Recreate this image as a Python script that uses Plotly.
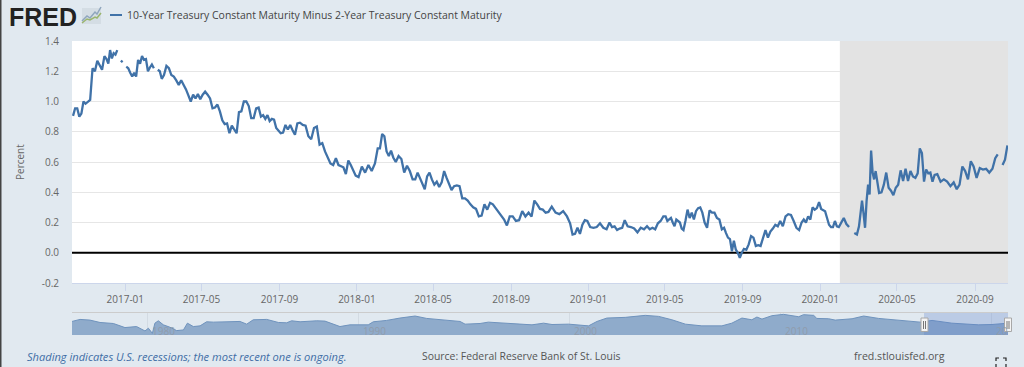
import calendar
from datetime import datetime, timedelta
import plotly.graph_objects as go

# Monthly blocks of readings of the 10Y-2Y spread (percent); None = gap in the series
spread_2016 = {
    (2016, 10): [.905, .955, .955, .90, .92, 1.0, .985],
    (2016, 11): [1.0, 1.01, 1.22, 1.2, 1.27, 1.24, 1.21, 1.3],
    (2016, 12): [1.28, 1.25, 1.34, 1.285, 1.32, 1.31, 1.34, None, 1.27, 1.26, None],
}
spread_2017 = {
    (2017, 1): [1.23, 1.22, 1.19, 1.165, 1.19, 1.165, 1.275, 1.25, 1.3, 1.275],
    (2017, 2): [1.28, 1.2, 1.225, 1.245, 1.22, None, 1.21, 1.2, 1.15],
    (2017, 3): [1.175, 1.235, 1.22, 1.175, 1.165, 1.14, 1.11, 1.14],
    (2017, 4): [1.11, 1.08, 1.04, 1.0, 1.045, 1.02, 1.05, 1.015],
    (2017, 5): [1.045, 1.065, 1.045, 1.02, .955, .96, .98, .935],
    (2017, 6): [.875, .85, .855, .79, .84, .81, .79, .93],
    (2017, 7): [.935, 1.0, 1.0, .97, .89, .89, .955, .96],
    (2017, 8): [.9, .91, .885, .91, .87, .885, .88, .825, .81],
    (2017, 9): [.79, .795, .845, .815, .845, .81, .78, .855],
    (2017, 10): [.86, .845, .84, .77, .75, .825, .835],
    (2017, 11): [.715, .725, .67, .625, .59, .58, .625],
    (2017, 12): [.58, .57, .565, .52, .61, .58, .54, .51],
}
spread_2018 = {
    (2018, 1): [.5, .57, .53, .58, .54, .59],
    (2018, 2): [.69, .69, .785, .77, .67, .64, .675, .63],
    (2018, 3): [.6, .64, .62, .53, .575, .54, .485],
    (2018, 4): [.485, .53, .495, .46, .42, .505, .53, .485],
    (2018, 5): [.45, .47, .435, .465, .54, .495, .46, .415],
    (2018, 6): [.44, .445, .44, .36, .36, .345, .32],
    (2018, 7): [.3, .29, .24, .245, .32, .285, .33],
    (2018, 8): [.32, .295, .265, .245, .22, .18, .24],
    (2018, 9): [.24, .21, .215, .275, .24, .265],
    (2018, 10): [.24, .345, .32, .29, .285, .265, .27],
    (2018, 11): [.305, .265, .255, .275, .24],
    (2018, 12): [.195, .12, .125, .165, .125, .185, .215, .21],
}
spread_2019 = {
    (2019, 1): [.17, .165, .17, .195, .165, .155],
    (2019, 2): [.2, .17, .175, .15, .16, .165, .215],
    (2019, 3): [.175, .17, .16, .135, .165, .155],
    (2019, 4): [.175, .155, .165, .155, .195, .21, .24],
    (2019, 5): [.24, .21, .22, .23, .2, .175, .22, .21, .2, .16, .15],
    (2019, 6): [.21, .285, .23, .265, .22, .275, .295, .3, .265],
    (2019, 7): [.2, .165, .28, .265, .265, .23, .22, .155],
    (2019, 8): [.165, .13, .1, .09, .01, .08, .02, 0, -.033, 0],
    (2019, 9): [.025, .02, .055, .11, .1, .045, .05, .045],
    (2019, 10): [.1, .15, .1, .14, .16, .185, .175, .21],
    (2019, 11): [.175, .24, .255, .25, .21, .165, .15],
    (2019, 12): [.2, .22, .2, .24, .22, .3, .285, .295, .335],
}
spread_2020 = {
    (2020, 1): [.29, .28, .275, .23, .185, .17, .17, .21, .175, .17],
    (2020, 2): [.2, .23, .19, .17, None, .13, .12],
    (2020, 3): [.175, .275, .345, .26, .165, .34, .45, .385, .675, .53, .485, .54, .475],
    (2020, 4): [.395, .4, .45, .53, .43, .41, .38, .43],
    (2020, 5): [.45, .545, .475, .555, .475, .54, .505, .495],
    (2020, 6): [.525, .69, .66, .47, .55, .525, .53, .47, .515],
    (2020, 7): [.52, .47, .485, .47, .44, .465],
    (2020, 8): [.42, .45, .57, .54, .485, .605, .57],
    (2020, 9): [.495, .56, .55, .555, .53, .555],
    (2020, 10): [.625, .65, None, .58, .615, .71],
}

# Overview strip: decimal year and spread
nav_years = [1976.43, 1976.81, 1977.28, 1977.76, 1978.39, 1978.94, 1979.49, 1979.89, 1980.05,
             1980.24, 1980.36, 1980.52, 1980.76, 1981.07, 1981.39, 1981.71, 1981.9, 1982.18,
             1982.5, 1982.81, 1983.13, 1983.76, 1984.39, 1984.71, 1985.02, 1985.66, 1986.21,
             1986.6, 1986.84, 1987.24, 1988.03, 1988.42, 1989.13, 1989.6, 1990.47, 1990.71,
             1991.34, 1991.97, 1992.69, 1993.24, 1993.87, 1994.82, 1995.06, 1995.77, 1996.16,
             1996.71, 1997.28, 1998.23, 1998.78, 1999.18, 1999.97, 2000.91, 2001.31, 2001.78,
             2002.65, 2003.6, 2004.23, 2004.86, 2005.5, 2006.28, 2007.23, 2007.7, 2008.18,
             2008.65, 2008.89, 2009.13, 2009.6, 2010.15, 2010.87, 2011.1, 2011.58, 2011.73,
             2012.29, 2012.6, 2013.4, 2013.95, 2014.66, 2015.45, 2016.63, 2017.19, 2018.13,
             2019.4, 2020.03, 2020.79]
nav_values = [1.27, 1.83, 1.64, .99, .71, -.41, -.13, -1.34, -.59, -2.0, .8, 1.45, .34, -.31,
              -1.24, -1.06, .8, -.13, .06, 1.18, 1.08, 1.27, 1.27, .53, 1.73, 1.83, .99, .9,
              1.45, 1.18, 1.45, 1.36, -.13, .34, .34, 1.18, 1.55, 2.2, 2.76, 2.1, 1.73, 1.27,
              .53, .71, 1.08, .9, .62, .34, .8, .43, .53, .06, 1.27, 2.2, 2.39, 2.94, 2.66,
              1.73, .53, .06, .06, .8, 2.2, 1.73, 2.48, 1.92, 2.85, 3.22, 2.57, 3.13, 2.94,
              2.1, 2.01, 1.64, 2.01, 2.76, 2.1, 1.73, 1.08, 1.55, .8, .34, .43, .8]
nav_labels = ["1980", "1990", "2000", "2010", "20"]
nav_label_years = [1980, 1990, 2000, 2010, 2020]

y_ticks = [-0.2, 0.0, 0.2, 0.4, 0.6, 0.8, 1.0, 1.2, 1.4]
series_name = "10-Year Treasury Constant Maturity Minus 2-Year Treasury Constant Maturity"

dates, values = [], []
for block in (spread_2016, spread_2017, spread_2018, spread_2019, spread_2020):
    for (yr, mo), vals in block.items():
        start = 9 if (yr, mo) == (2016, 10) else 1
        days = calendar.monthrange(yr, mo)[1] - start + 1
        if (yr, mo) == (2020, 10):
            days = 23
        for i, v in enumerate(vals):
            dates.append(datetime(yr, mo, start) + timedelta(days=(i + 0.5) / len(vals) * days))
            values.append(v)

L, R, T, B = 72, 1008, 41, 335
W, H = 1024, 367
px = lambda x: (x - L) / (R - L)
py = lambda y: (B - y) / (B - T)

BG = "#e1e9f0"
GREY = "#666666"
LINE = "#4072a8"
FONT = "Open Sans"

fig = go.Figure()
fig.add_trace(go.Scatter(x=dates, y=values, mode="lines", name=series_name,
                         line=dict(color=LINE, width=2.3), connectgaps=False,
                         xaxis="x", yaxis="y", showlegend=False))
fig.add_trace(go.Scatter(x=nav_years, y=[-2.45] * len(nav_years), mode="lines",
                         line=dict(width=0), xaxis="x2", yaxis="y2", showlegend=False))
fig.add_trace(go.Scatter(x=nav_years, y=nav_values, mode="lines", fill="tonexty",
                         fillcolor="#8fabcb", line=dict(color="#6f93bd", width=1),
                         xaxis="x2", yaxis="y2", showlegend=False))

shapes = [
    # overview strip background
    dict(type="rect", xref="x2", yref="y2", x0=1976.43, x1=2020.79, y0=-2.45, y1=3.59,
         fillcolor=BG, line_width=0, layer="below"),
    # recession band and zero line in data coordinates
    dict(type="rect", xref="x", yref="y", x0="2020-02-01", x1="2020-10-23", y0=-0.2, y1=1.4,
         fillcolor="#e3e3e3", line_width=0, layer="between"),
    dict(type="line", xref="x", yref="y", x0="2016-10-09", x1="2020-10-23", y0=0, y1=0,
         line=dict(color="#000000", width=2), layer="between"),
    # selected window in the overview strip
    dict(type="rect", xref="x2", yref="y2", x0=2016.81, x1=2020.79, y0=-2.45, y1=3.59,
         fillcolor="rgba(90,125,200,0.28)", line_width=0, layer="above"),
    # left page edge
    dict(type="rect", xref="paper", yref="paper", x0=px(0), x1=px(1.5), y0=py(0), y1=py(H),
         fillcolor="#444444", line_width=0),
    # legend sample
    dict(type="line", xref="paper", yref="paper", x0=px(110), x1=px(122), y0=py(15), y1=py(15),
         line=dict(color=LINE, width=2)),
]
# Slider handles
for hx in (924.5, 1008):
    shapes.append(dict(type="rect", xref="paper", yref="paper", x0=px(hx - 3.5), x1=px(hx + 3.5),
                       y0=py(318), y1=py(331.5), fillcolor="#f4f4f4",
                       line=dict(color="#a8a8a8", width=1), layer="above"))
    for dx in (-1, 1):
        shapes.append(dict(type="line", xref="paper", yref="paper", x0=px(hx + dx), x1=px(hx + dx),
                           y0=py(321), y1=py(329), line=dict(color="#777777", width=1), layer="above"))
# Logo icon
shapes.append(dict(type="rect", xref="paper", yref="paper", x0=px(82), x1=px(101), y0=py(8), y1=py(24),
                   fillcolor="#d4dde4", line_width=0))
def poly(pts, color, width=1):
    d = "M" + " L".join(f"{px(a):.5f},{py(b):.5f}" for a, b in pts)
    return dict(type="path", xref="paper", yref="paper", path=d, line=dict(color=color, width=width))
shapes.append(poly([(82, 21), (87, 16), (90, 18), (95, 12), (97, 14), (101, 7)], "#8fa6bd", 1.5))
shapes.append(poly([(82, 23), (87, 19), (90, 20), (95, 17), (97, 18), (101, 13)], "#9ab56e", 1.5))
# Fullscreen icon
for pts in ([(996, 361), (996, 358), (999, 358)], [(1003, 358), (1006, 358), (1006, 361)],
            [(996, 364), (996, 367)], [(1006, 364), (1006, 367)]):
    shapes.append(poly(pts, "#222222", 1.2))


def note(x, y, text, size=10, color=GREY, anchor="left", **kw):
    return dict(x=px(x), y=py(y), xref="paper", yref="paper", text=text, showarrow=False,
                xanchor=anchor, yanchor="middle", align=anchor,
                font=dict(family=kw.pop("family", FONT), size=size, color=color), **kw)


annotations = [
    note(7, 16.5, "<b>FRED</b>", size=25, color="#222222", family="Liberation Sans"),
    note(124.5, 15, series_name, size=10.45, color="#444444"),
    note(20, 162, "Percent", size=10, color=GREY, anchor="center", textangle=-90),
    note(25, 356, "<i>Shading indicates U.S. recessions; the most recent one is ongoing.</i>",
         size=11.1, color="#3f6ea6"),
    note(420, 356, "Source: Federal Reserve Bank of St. Louis", size=10.4, color="#555555"),
    note(851.5, 356, "fred.stlouisfed.org", size=10.6, color="#555555"),
]
for yr, lab in zip(nav_label_years, nav_labels):
    annotations.append(dict(x=yr + 0.12, y=-1.25, xref="x2", yref="y2", text=lab, showarrow=False,
                            xanchor="left", yanchor="middle",
                            font=dict(family=FONT, size=10, color="#8f9cac")))

fig.update_layout(
    width=W, height=H, autosize=False,
    margin=dict(l=L, r=W - R, t=T, b=H - B, pad=0),
    paper_bgcolor=BG, plot_bgcolor="#ffffff",
    showlegend=False, shapes=shapes, annotations=annotations,
    font=dict(family=FONT, size=10, color=GREY),
    xaxis=dict(domain=[0, 1], anchor="y", type="date", range=["2016-10-09", "2020-10-23"],
               tick0="2017-01-01", dtick="M4", tickformat="%Y-%m", ticks="outside", ticklen=7,
               tickcolor="#ccd6eb", tickwidth=1, showgrid=False, showline=True,
               linecolor="#ccd6eb", linewidth=1, zeroline=False,
               tickfont=dict(family=FONT, size=10, color=GREY)),
    yaxis=dict(domain=[py(283), 1], anchor="x", range=[-0.2, 1.4], tickvals=y_ticks,
               ticktext=[f"{v:.1f}" for v in y_ticks], ticks="outside", ticklen=10,
               tickcolor="rgba(0,0,0,0)", showgrid=True, gridcolor="#e6e6e6", gridwidth=1,
               zeroline=False, showline=False,
               tickfont=dict(family=FONT, size=10, color=GREY)),
    xaxis2=dict(domain=[0, 1], anchor="y2", range=[1976.43, 2020.79], tickvals=nav_label_years,
                showticklabels=False, ticks="", showgrid=True, gridcolor="#d3dbe3", zeroline=False,
                side="top", showline=True, linecolor="#cccccc", linewidth=1),
    yaxis2=dict(domain=[0, py(313)], anchor="x2", range=[-2.45, 3.59], showticklabels=False,
                ticks="", showgrid=False, zeroline=False, showline=False),
)

fig.write_html("out.html", config=dict(displayModeBar=False),
               post_script="document.body.style.margin='0';document.body.style.overflow='hidden';")
